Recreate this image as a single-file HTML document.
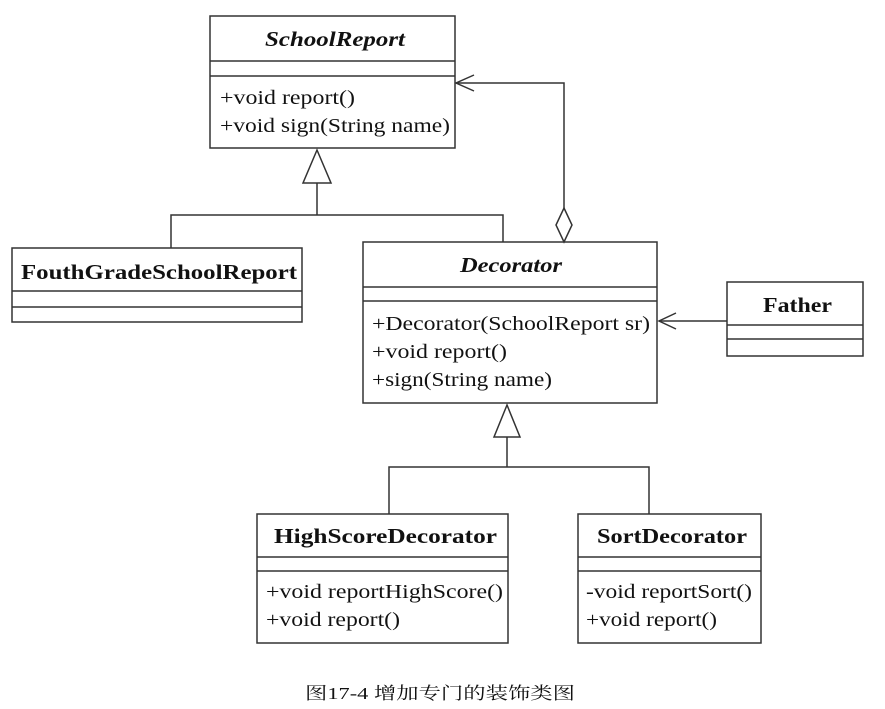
<!DOCTYPE html>
<html><head><meta charset="utf-8"><style>
html,body{margin:0;padding:0;background:#fff;}
svg{display:block;}
text{font-family:"Liberation Serif",serif;fill:#111;}
.t{font-weight:bold;font-size:21px;}
.m{font-size:20px;}
</style></head><body>
<svg width="885" height="709" viewBox="0 0 885 709" xmlns="http://www.w3.org/2000/svg">
<g fill="none" stroke="#333" stroke-width="1.5">
<rect x="210" y="16" width="245" height="132"/>
<line x1="210" y1="61" x2="455" y2="61"/>
<line x1="210" y1="76" x2="455" y2="76"/>
<rect x="12" y="248" width="290" height="74"/>
<line x1="12" y1="291" x2="302" y2="291"/>
<line x1="12" y1="307" x2="302" y2="307"/>
<rect x="363" y="242" width="294" height="161"/>
<line x1="363" y1="287" x2="657" y2="287"/>
<line x1="363" y1="301" x2="657" y2="301"/>
<rect x="727" y="282" width="136" height="74"/>
<line x1="727" y1="325" x2="863" y2="325"/>
<line x1="727" y1="339" x2="863" y2="339"/>
<rect x="257" y="514" width="251" height="129"/>
<line x1="257" y1="557" x2="508" y2="557"/>
<line x1="257" y1="571" x2="508" y2="571"/>
<rect x="578" y="514" width="183" height="129"/>
<line x1="578" y1="557" x2="761" y2="557"/>
<line x1="578" y1="571" x2="761" y2="571"/>
<polygon points="317,150 303,183 331,183"/>
<polyline points="317,183 317,215"/>
<polyline points="171,248 171,215 503,215 503,242"/>
<polygon points="507,405 494,437 520,437"/>
<polyline points="507,437 507,467"/>
<polyline points="389,514 389,467 649,467 649,514"/>
<polygon points="564,208 572,225 564,242 556,225"/>
<polyline points="564,208 564,83 456,83"/>
<polyline points="474,75 456,83 474,91"/>
<line x1="727" y1="321" x2="659" y2="321"/>
<polyline points="676,313 659,321 676,329"/>
</g>
<text class="t" font-style="italic" x="265" y="46" textLength="140" lengthAdjust="spacingAndGlyphs">SchoolReport</text>
<text class="m" x="220" y="104" textLength="135" lengthAdjust="spacingAndGlyphs">+void report()</text>
<text class="m" x="220" y="132" textLength="230" lengthAdjust="spacingAndGlyphs">+void sign(String name)</text>
<text class="t" x="21" y="279" textLength="276" lengthAdjust="spacingAndGlyphs">FouthGradeSchoolReport</text>
<text class="t" font-style="italic" x="460" y="272" textLength="102" lengthAdjust="spacingAndGlyphs">Decorator</text>
<text class="m" x="372" y="330" textLength="278" lengthAdjust="spacingAndGlyphs">+Decorator(SchoolReport sr)</text>
<text class="m" x="372" y="358" textLength="135" lengthAdjust="spacingAndGlyphs">+void report()</text>
<text class="m" x="372" y="386" textLength="180" lengthAdjust="spacingAndGlyphs">+sign(String name)</text>
<text class="t" x="763" y="312" textLength="69" lengthAdjust="spacingAndGlyphs">Father</text>
<text class="t" x="274" y="543" textLength="223" lengthAdjust="spacingAndGlyphs">HighScoreDecorator</text>
<text class="m" x="266" y="598" textLength="237" lengthAdjust="spacingAndGlyphs">+void reportHighScore()</text>
<text class="m" x="266" y="626" textLength="134" lengthAdjust="spacingAndGlyphs">+void report()</text>
<text class="t" x="597" y="543" textLength="150" lengthAdjust="spacingAndGlyphs">SortDecorator</text>
<text class="m" x="586" y="598" textLength="166" lengthAdjust="spacingAndGlyphs">-void reportSort()</text>
<text class="m" x="586" y="626" textLength="131" lengthAdjust="spacingAndGlyphs">+void report()</text>
<text x="305" y="699" font-size="17" style="font-family:'Liberation Serif','Noto Serif CJK SC',serif" textLength="270" lengthAdjust="spacingAndGlyphs">图17-4 增加专门的装饰类图</text>
</svg>
</body></html>
